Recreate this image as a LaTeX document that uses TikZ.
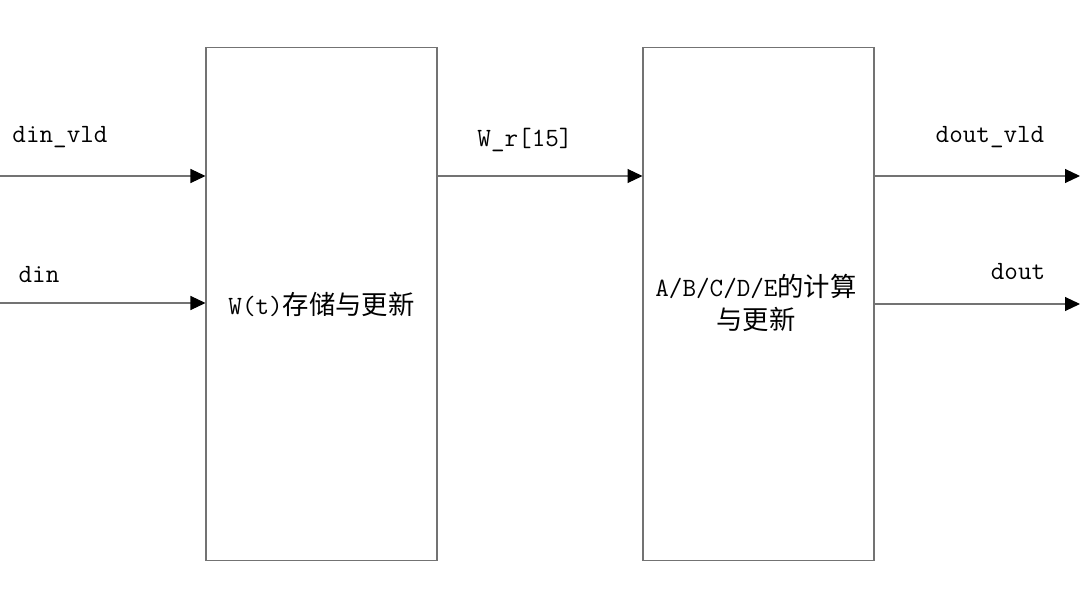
\documentclass[tikz,border=0pt]{standalone}
\usepackage{fontspec}
\setmonofont{Latin Modern Mono}
\newfontfamily\cjk{Noto Sans CJK SC}
\usepackage{tikz}
\usetikzlibrary{arrows.meta,positioning,calc}

\begin{document}
\begin{tikzpicture}[
  x=0.02cm, y=-0.02cm,
  font=\ttfamily\fontsize{15}{18}\selectfont,
  blk/.style={draw=black!55, line width=0.6pt, align=center,
    minimum width=4.62cm, minimum height=10.28cm, inner sep=0pt},
  sig/.style={-{Triangle[length=3mm, width=2.8mm, color=black]}, draw=black!55, line width=0.6pt},
  lbl/.style={inner sep=0pt, anchor=center}
]
\useasboundingbox (0,0) rectangle (1080,608);
\node[blk] (wmem) at (321.5,304) {W(t){\cjk 存储与更新}};
\node[blk] (calc) at (758.5,304) {};
\node[align=center, inner sep=0pt] (calctxt) at (756,303)
  {A/B/C/D/E{\cjk 的计算}\\[1pt]{\cjk 与更新}};
\coordinate (invld) at (0,176);
\coordinate (indat) at (0,303);
\coordinate (outvld) at (1080,176);
\coordinate (outdat) at (1080,304);
\draw[sig] (invld) -- (invld -| wmem.west);
\draw[sig] (indat) -- (indat -| wmem.west);
\draw[sig] (wmem.east |- invld) -- (calc.west |- invld);
\draw[sig] (calc.east |- outvld) -- (outvld);
\draw[sig] (calc.east |- outdat) -- (outdat);
\node[lbl] (lvld) at (60,137) {din\_vld};
\node[lbl] (ldat) at (39,275) {din};
\node[lbl] (lwr) at (525,140) {W\_r[15]};
\node[lbl] (loutvld) at (990,137) {dout\_vld};
\node[lbl] (loutdat) at (1018,272) {dout};
\end{tikzpicture}
\end{document}
